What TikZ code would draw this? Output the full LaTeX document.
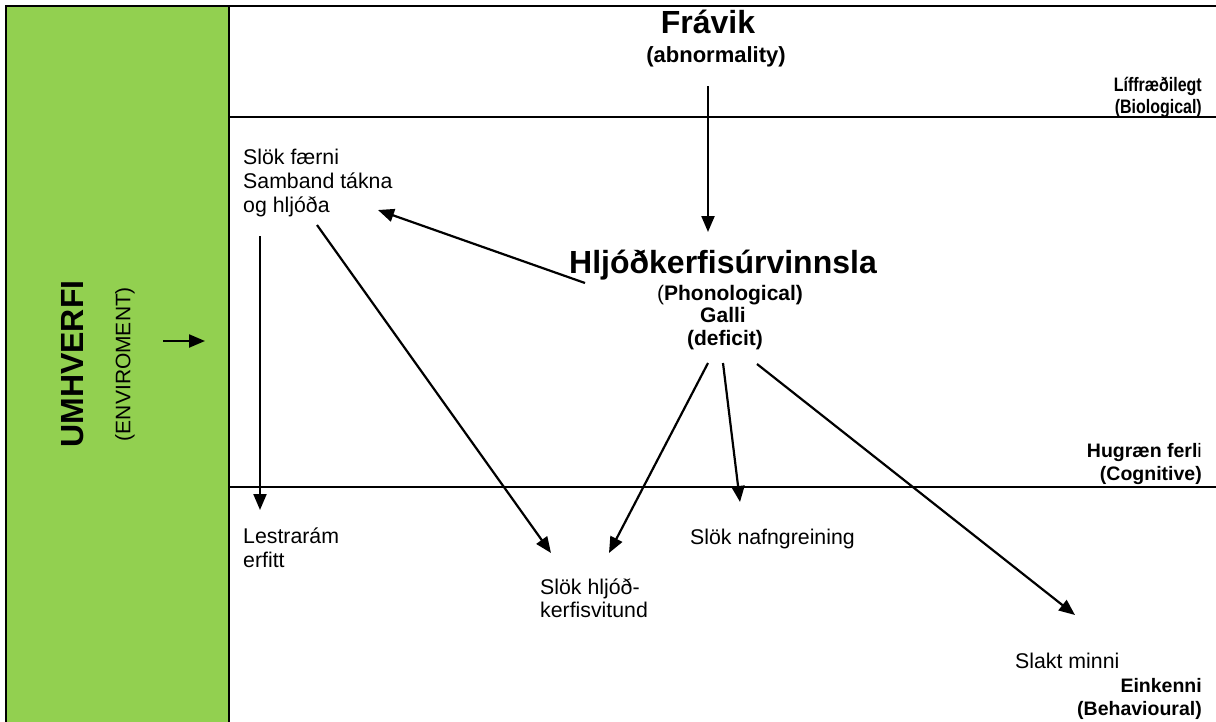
\documentclass[tikz,border=0pt]{standalone}
\usepackage{fontspec}
\usepackage{graphicx}
\setmainfont{Liberation Sans}
\usetikzlibrary{arrows.meta}
\definecolor{envgreen}{RGB}{146,208,80}
\newcommand{\narrow}[1]{\scalebox{0.82}[1]{#1}}
\begin{document}
\begin{tikzpicture}[x=1pt,y=-1pt,
  rule/.style={line width=2.2pt},
  arr/.style={line width=2.2pt,-{Triangle[length=16pt,width=13pt]}},
  huge/.style={font=\bfseries\fontsize{32}{36}\selectfont,inner sep=0,anchor=base},
  sub/.style={font=\bfseries\fontsize{21}{24}\selectfont,inner sep=0,anchor=base},
  level/.style={font=\bfseries\fontsize{19.5}{22}\selectfont,inner sep=0,anchor=base east},
  plain/.style={font=\fontsize{21.3}{24}\selectfont,inner sep=0,anchor=base west},
]
\useasboundingbox (0,0) rectangle (1216,721);
\fill[white] (0,0) rectangle (1216,721);

% environment band on the left
\fill[envgreen] (6,6) rectangle (229,740);
\draw[rule] (6,740) -- (6,6) -- (1216,6);
\draw[rule] (229,6) -- (229,740);

% level separators
\draw[rule] (229,117) -- (1216,117);
\draw[rule] (229,487) -- (1216,487);

% environment labels
\node[font=\bfseries\fontsize{32}{36}\selectfont,rotate=90,inner sep=0] (umh) at (73,364) {UMHVERFI};
\node[font=\fontsize{21}{24}\selectfont,rotate=90,inner sep=0] (env) at (125,364) {(ENVIROMENT)};
\coordinate (envA) at (163,341);
\coordinate (envB) at (205,341);
\draw[arr] (envA) -- (envB);

% level names
\node[level] (bioA) at (1202,91) {\narrow{Líffræðilegt}};
\node[level] (bioB) at (1202,113) {\narrow{(Biological)}};
\node[level] (cogA) at (1202,457) {Hugræn ferl{\mdseries i}};
\node[level] (cogB) at (1202,480) {(Cognitive)};
\node[level] (behA) at (1202,692) {Einkenni};
\node[level] (behB) at (1202,715) {(Behavioural)};

% biological cause
\node[huge] (frav) at (708,33) {Frávik};
\node[sub,font=\bfseries\fontsize{22}{24}\selectfont] (abn) at (716,62) {(abnormality)};

% phonological deficit
\node[huge] (hlj) at (723,273) {Hljóðkerfisúrvinnsla};
\node[sub] (phon) at (730,300) {{\mdseries(}Phonological)};
\node[sub] (galli) at (723,322) {Galli};
\node[sub] (def) at (725,345) {(deficit)};

% cognitive / behavioural outcomes
\node[plain] (skA) at (243,164) {Slök færni};
\node[plain] (skB) at (243,188) {Samband tákna};
\node[plain] (skC) at (243,212) {og hljóða};
\node[plain] (lesA) at (243,543) {Lestrarám};
\node[plain] (lesB) at (243,567) {erfitt};
\node[plain] (hvA) at (540,594) {Slök hljóð-};
\node[plain] (hvB) at (540,617) {kerfisvitund};
\node[plain] (naf) at (690,544) {Slök nafngreining};
\node[plain] (minni) at (1015,668) {Slakt minni};

% connector end points
\coordinate (fravOut) at (708,86);
\coordinate (hljIn) at (708,232);
\coordinate (hljOut) at (585,283);
\coordinate (skIn) at (378,210);
\coordinate (skOutA) at (260,236);
\coordinate (lesIn) at (260,510);
\coordinate (skOutB) at (317,225);
\coordinate (hvInA) at (551,553);
\coordinate (defOutA) at (708,363);
\coordinate (hvInB) at (609,553);
\coordinate (defOutB) at (723,363);
\coordinate (nafIn) at (740,502);
\coordinate (defOutC) at (757,364);
\coordinate (minniIn) at (1075,615);

\draw[arr] (fravOut) -- (hljIn);
\draw[arr] (hljOut) -- (skIn);
\draw[arr] (skOutA) -- (lesIn);
\draw[arr] (skOutB) -- (hvInA);
\draw[arr] (defOutA) -- (hvInB);
\draw[arr] (defOutB) -- (nafIn);
\draw[arr] (defOutC) -- (minniIn);
\end{tikzpicture}
\end{document}
